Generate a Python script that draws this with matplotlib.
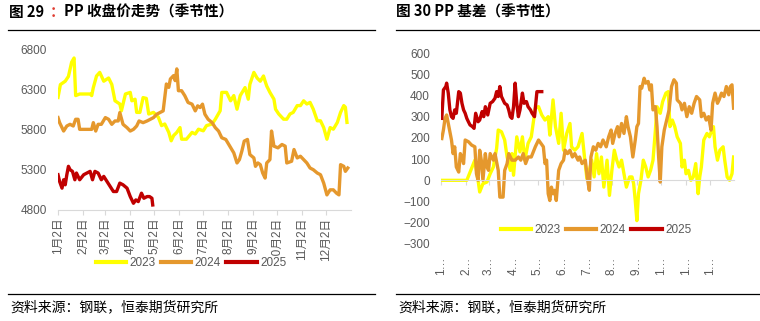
import matplotlib
matplotlib.use('Agg')
from matplotlib import pyplot as plt
from matplotlib.lines import Line2D
from matplotlib.transforms import blended_transform_factory

plt.rcParams['font.family'] = ['Liberation Sans', 'Noto Sans CJK SC']

# x = days after Jan 2
month_days = [0, 31, 59, 90, 120, 151, 181, 212, 243, 273, 304, 334]
left_xlabels = ['1月2日', '2月2日', '3月2日', '4月2日', '5月2日', '6月2日',
                '7月2日', '8月2日', '9月2日', '10月2日', '11月2日', '12月2日']
right_xlabels = ['1…', '2…', '3…', '4…', '5…', '6…', '7…', '8…', '9…', '1…', '1…', '1…']
years = ['2023', '2024', '2025']
colors = ['#FFFF00', '#E5982D', '#C00000']

# PP close price
d23_l = [0, 3, 9, 13, 17, 20, 22, 27, 40, 42, 44, 48, 52, 57, 63, 67, 71, 77, 79, 84,
         90, 92, 96, 98, 102, 106, 110, 113, 119, 125, 129, 133, 138, 141, 144, 148, 152, 154, 160, 167,
         171, 175, 181, 185, 192, 196, 202, 204, 210, 215, 219, 223, 227, 233, 237, 239, 244, 248, 252, 256,
         258, 260, 264, 269, 271, 275, 281, 285, 289, 293, 298, 302, 306, 310, 314, 318, 323, 327, 331, 335,
         339, 343, 348, 352, 356, 358, 360]
v23_l = [6207, 6368, 6410, 6470, 6648, 6700, 6230, 6250, 6250, 6230, 6330, 6475, 6520, 6410, 6450, 6370, 6165, 6125, 6040, 6250,
         6270, 6165, 6185, 6020, 6020, 6205, 6195, 6000, 6020, 5960, 5855, 5875, 5770, 5665, 5730, 5770, 5830, 5685, 5685, 5770,
         5750, 5810, 5790, 5855, 5875, 5935, 6040, 6270, 6270, 6165, 6230, 6060, 6230, 6330, 6185, 6370, 6520, 6450, 6410, 6475,
         6410, 6350, 6270, 6185, 6060, 6000, 5935, 5935, 6000, 6020, 6105, 6105, 6165, 6125, 6145, 6060, 5915, 5915, 5830, 5685,
         5830, 5810, 5895, 6020, 6105, 6085, 5895]
d24_l = [0, 2, 7, 11, 15, 19, 22, 25, 27, 36, 42, 44, 47, 50, 54, 59, 63, 67, 71, 75,
         77, 81, 86, 90, 94, 98, 101, 106, 111, 115, 119, 123, 127, 131, 135, 138, 140, 144, 146, 148,
         150, 154, 158, 162, 167, 171, 174, 177, 180, 183, 187, 192, 196, 200, 204, 209, 214, 219, 223, 226,
         229, 232, 236, 239, 244, 246, 249, 252, 255, 258, 260, 264, 266, 269, 274, 279, 283, 285, 291, 294,
         298, 302, 306, 310, 314, 318, 323, 327, 331, 335, 339, 343, 347, 350, 352, 356, 358, 361]
v24_l = [5955, 5892, 5787, 5850, 5871, 5850, 5934, 5934, 5808, 5808, 5808, 5892, 5787, 5871, 5871, 5955, 5934, 5871, 5913, 5913,
         6018, 5871, 5829, 5787, 5808, 5850, 5913, 5892, 5913, 5934, 5955, 5997, 6018, 6039, 6375, 6333, 6438, 6480, 6417, 6564,
         6291, 6291, 6228, 6144, 6123, 6039, 6102, 6081, 6123, 5997, 5934, 5892, 5829, 5787, 5703, 5682, 5598, 5514, 5388, 5430,
         5535, 5661, 5682, 5493, 5451, 5346, 5388, 5367, 5262, 5199, 5388, 5430, 5787, 5598, 5577, 5619, 5598, 5388, 5409, 5556,
         5451, 5472, 5430, 5388, 5325, 5304, 5262, 5241, 5136, 4989, 5052, 5052, 5010, 4989, 5367, 5346, 5283, 5325]
d25_l = [0, 2, 5, 7, 9, 11, 13, 15, 18, 21, 23, 27, 32, 36, 40, 43, 46, 50, 54, 57,
         61, 65, 69, 73, 77, 81, 86, 90, 94, 97, 100, 104, 107, 111, 114, 117, 118]
v25_l = [5241, 5157, 5073, 5178, 5115, 5241, 5346, 5304, 5283, 5178, 5262, 5178, 5241, 5262, 5283, 5178, 5283, 5262, 5178, 5220,
         5157, 5094, 5031, 5031, 5136, 5115, 5073, 4968, 4884, 4926, 4905, 5010, 4947, 4968, 4968, 4947, 4863]

# PP basis
d23_r = [1, 32, 42, 46, 48, 52, 57, 61, 65, 67, 69, 71, 75, 79, 82, 86, 88, 90, 94, 98,
         101, 104, 108, 112, 117, 121, 125, 129, 133, 135, 139, 142, 146, 149, 152, 156, 160, 162, 166, 170,
         175, 178, 181, 184, 187, 190, 193, 196, 199, 202, 206, 209, 212, 215, 218, 221, 224, 227, 230, 234,
         237, 239, 241, 243, 245, 248, 251, 254, 257, 260, 263, 266, 268, 272, 275, 279, 282, 284, 287, 290,
         293, 297, 299, 302, 304, 307, 310, 313, 316, 319, 321, 323, 326, 330, 333, 336, 338, 340, 343, 346,
         350, 352, 355, 358, 361, 363]
v23_r = [0, 0, 95, 0, -55, -16, -8, 31, 63, 110, 150, 237, 229, 190, 110, 47, 126, 24, 205, 134,
         205, 95, 174, 205, 340, 347, 308, 284, 300, 213, 379, 253, 174, 316, 142, 221, 268, 158, 142, 158,
         221, 110, 8, 47, 95, 16, 126, 31, 110, -32, 95, -71, 47, 142, 95, 63, 95, 31, -32, 16,
         16, -16, -95, -190, -63, 0, 95, 63, 16, 47, 95, 237, 347, 316, 371, 411, 418, 253, 284, 253,
         205, 174, 63, 95, 31, 47, 0, 16, 79, -63, 16, 63, 190, 221, 205, 237, 253, 158, 95, 142,
         158, 95, 16, 0, 31, 110]
d24_r = [1, 3, 5, 7, 9, 11, 13, 15, 17, 19, 22, 24, 26, 28, 30, 34, 38, 42, 44, 46,
         48, 50, 52, 55, 57, 59, 61, 65, 67, 71, 73, 77, 79, 82, 84, 88, 92, 96, 99, 102,
         105, 108, 112, 117, 121, 124, 127, 129, 131, 133, 135, 137, 139, 141, 143, 146, 149, 152, 154, 157,
         160, 163, 166, 170, 172, 175, 179, 182, 184, 186, 189, 192, 195, 198, 201, 205, 208, 211, 213, 216,
         219, 221, 224, 227, 230, 232, 235, 238, 241, 243, 245, 247, 249, 252, 254, 257, 259, 261, 263, 266,
         268, 270, 272, 274, 277, 280, 283, 286, 289, 292, 293, 297, 299, 302, 305, 308, 311, 314, 317, 321,
         323, 326, 329, 332, 335, 337, 340, 343, 345, 348, 351, 354, 357, 359, 361, 363]
v24_r = [197, 237, 292, 308, 268, 229, 190, 126, 158, 63, 39, 126, 110, 79, 190, 182, 166, 158, 31, 0,
         142, 95, 0, 126, 63, 47, 126, 95, 126, 47, -79, -79, 47, 79, 126, 95, 95, 110, 95, 126,
         79, 110, 110, 158, 190, 174, 158, 79, 95, -63, -95, -32, -63, -47, -95, 47, 79, 95, 142, 126,
         142, 110, 126, 95, 110, 79, 95, 0, -47, 110, 158, 142, 174, 158, 190, 158, 205, 237, 174, 221,
         253, 205, 268, 221, 300, 253, 205, 110, 190, 253, 268, 442, 434, 481, 458, 466, 426, 450, 332, 347,
         253, 110, -8, 158, 237, 284, 332, 442, 474, 458, 379, 363, 332, 363, 300, 347, 316, 363, 395, 379,
         300, 316, 284, 300, 237, 363, 411, 363, 379, 411, 395, 442, 403, 442, 450, 340]
d25_r = [1, 3, 6, 7, 9, 11, 13, 15, 17, 19, 22, 24, 26, 28, 30, 32, 34, 36, 39, 41,
         43, 46, 48, 51, 53, 55, 58, 61, 64, 67, 69, 71, 73, 75, 77, 79, 82, 84, 86, 88,
         90, 92, 94, 96, 98, 101, 103, 106, 108, 111, 113, 116, 119, 122, 125]
v25_r = [292, 426, 442, 458, 411, 332, 300, 292, 332, 316, 418, 411, 363, 332, 316, 292, 276, 261, 253, 245,
         316, 276, 284, 324, 300, 347, 308, 363, 371, 387, 418, 395, 442, 395, 379, 363, 355, 332, 300, 292,
         347, 458, 363, 300, 332, 411, 363, 371, 347, 332, 316, 300, 418, 418, 418]

W, H = 760, 321
fig = plt.figure(figsize=(7.6, 3.21), dpi=100)
tick_color = '#595959'
axis_color = '#d9d9d9'

# ---- left: close price
ax1 = fig.add_axes([58/W, 1-210/H, 293/W, 160/H])
for d, v, c, y in zip([d23_l, d24_l, d25_l], [v23_l, v24_l, v25_l], colors, years):
    ax1.plot(d, v, color=c, lw=2.4, label=y, solid_joinstyle='round')
ax1.set_xlim(0, 365)
ax1.set_ylim(4800, 6800)
ax1.set_yticks([4800, 5300, 5800, 6300, 6800])
ax1.set_xticks(month_days)
ax1.set_xticklabels(left_xlabels, rotation=90)
for s in ['top', 'right', 'left']:
    ax1.spines[s].set_visible(False)
ax1.spines['bottom'].set_color(axis_color)
ax1.tick_params(axis='x', colors=axis_color, labelcolor=tick_color, labelsize=8.5, length=3.5, pad=2)
ax1.tick_params(axis='y', length=0, labelcolor=tick_color, labelsize=8.5, pad=8)
# legend box covers the end of the "10月2日" label, as in the source chart
leg1 = ax1.legend(loc='center', bbox_to_anchor=(191/W, 1-263/H), bbox_transform=fig.transFigure,
                  ncol=3, fontsize=8.5, frameon=True, framealpha=1, edgecolor='none',
                  handlelength=2.6, handletextpad=0.3, columnspacing=0.4, borderpad=0.1)
for t in leg1.get_texts():
    t.set_color(tick_color)
for l in leg1.get_lines():
    l.set_linewidth(3)

# ---- right: basis
ax2 = fig.add_axes([441/W, 1-244/H, 293/W, 191/H])
for d, v, c, y in zip([d23_r, d24_r, d25_r], [v23_r, v24_r, v25_r], colors, years):
    ax2.plot(d, v, color=c, lw=2.4, label=y, solid_joinstyle='round')
ax2.set_xlim(0, 363.5)
ax2.set_ylim(-300, 600)
ax2.set_yticks(range(-300, 601, 100))
ax2.set_xticks(month_days)
ax2.tick_params(axis='x', colors=axis_color, labelbottom=False, length=3.5)
ax2.tick_params(axis='y', length=0, labelcolor=tick_color, labelsize=8.5, pad=8)
for s in ['top', 'right', 'left']:
    ax2.spines[s].set_visible(False)
ax2.spines['bottom'].set_position(('data', 0))
ax2.spines['bottom'].set_color(axis_color)
trans = blended_transform_factory(ax2.transData, fig.transFigure)
for d, lab in zip(month_days, right_xlabels):
    ax2.text(d, 1-257/H, lab, transform=trans, rotation=90, ha='center', va='top',
             fontsize=8.5, color=tick_color)
leg2 = ax2.legend(loc='center', bbox_to_anchor=(596/W, 1-230/H), bbox_transform=fig.transFigure,
                  ncol=3, fontsize=8.5, frameon=False,
                  handlelength=2.6, handletextpad=0.3, columnspacing=0.4, borderpad=0.1)
for t in leg2.get_texts():
    t.set_color(tick_color)
for l in leg2.get_lines():
    l.set_linewidth(3)

# ---- titles, rules, source
title_font = dict(fontsize=10.5, weight='bold', family=['Noto Sans CJK SC', 'DejaVu Sans'])
t1 = fig.text(9/W, 1-12/H, '图 29', va='center', ha='left', **title_font)
c1 = ax1.annotate('：', xy=(1, 0), xycoords=t1, xytext=(4, 0), textcoords='offset points',
                  va='bottom', ha='left', color='#E03C31', annotation_clip=False, **title_font)
ax1.annotate('PP 收盘价走势（季节性）', xy=(1, 0), xycoords=c1, va='bottom', ha='left',
             annotation_clip=False, **title_font)
fig.text(396/W, 1-12/H, '图 30 PP 基差（季节性）', va='center', ha='left', **title_font)

for x0, x1 in [(8, 375), (396, 760)]:
    fig.add_artist(Line2D([x0/W, x1/W], [1-30/H, 1-30/H], color='black', lw=0.9))
    fig.add_artist(Line2D([x0/W, x1/W], [1-294/H, 1-294/H], color='black', lw=0.9))
    fig.text((x0+2)/W, 1-307/H, '资料来源：钢联，恒泰期货研究所', va='center', ha='left',
             fontsize=10, family=['Noto Sans CJK SC', 'DejaVu Sans'])

fig.savefig('out.png', dpi=100)
